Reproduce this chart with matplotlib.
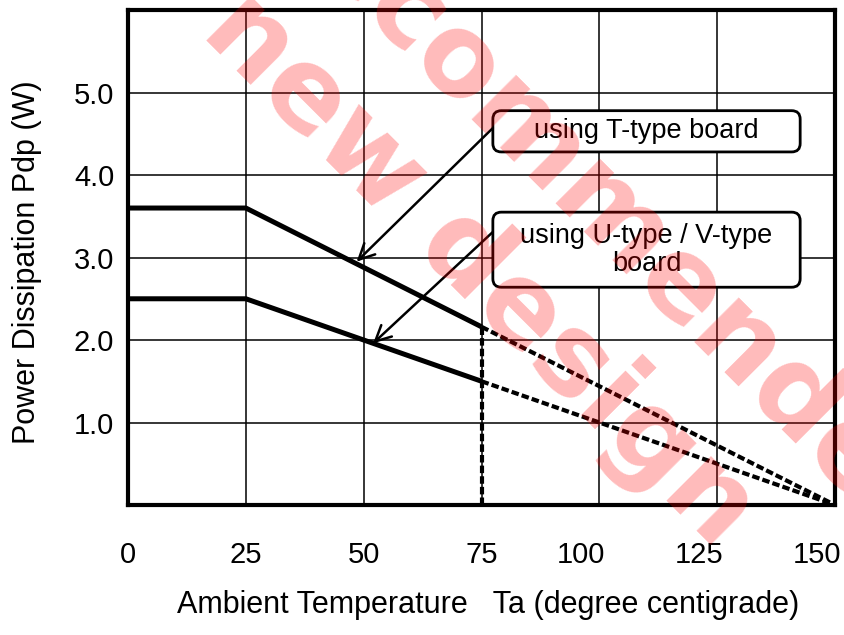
import matplotlib
matplotlib.use("Agg")
import matplotlib.pyplot as plt
import matplotlib.transforms as mtransforms
from matplotlib.patches import FancyBboxPatch

plt.rcParams['font.family'] = ['Liberation Sans', 'DejaVu Sans']

# --- Data ---
ta = [0, 25, 75, 150]             # ambient temperature (deg C)
pd_t = [3.6, 3.6, 2.16, 0.0]      # T-type board
pd_uv = [2.5, 2.5, 1.5, 0.0]      # U-type / V-type board
x_ticks = [0, 25, 50, 75, 100, 125, 150]
y_ticks = [1.0, 2.0, 3.0, 4.0, 5.0]

# annotation anchors: (box edge point, arrow tip)
t_arrow = ((77.4, 4.57), (48.5, 2.95))
uv_arrow = ((77.4, 3.31), (52.0, 1.96))

fig = plt.figure(figsize=(8.44, 6.35), dpi=100)
ax = fig.add_axes([0.1517, 0.2047, 0.8377, 0.7795])

dash = (0, (1.8, 0.75))
# solid part up to 75 C, dashed beyond
for pd in (pd_t, pd_uv):
    ax.plot(ta[:3], pd[:3], color='black', lw=3.6, solid_capstyle='butt', zorder=4)
    ax.plot(ta[2:], pd[2:], color='black', lw=3.0, linestyle=dash, zorder=4)
# vertical dashed marker at 75 C
ax.plot([ta[2], ta[2]], [0, pd_t[2]], color='black', lw=3.0, linestyle=dash, zorder=4)

ax.set_xlim(0, 150)
ax.set_ylim(0, 6.0)
ax.set_xticks(x_ticks)
ax.set_yticks(y_ticks)
ax.set_yticklabels([f'{v:.1f}' for v in y_ticks])
ax.tick_params(axis='both', length=0, labelsize=21)
ax.tick_params(axis='x', pad=26)
ax.tick_params(axis='y', pad=10)
ax.grid(True, color='black', lw=1.1)
for s in ax.spines.values():
    s.set_linewidth(3.0)

# the last three x labels sit a bit left of their grid lines in the original
shift = mtransforms.ScaledTranslation(-0.18, 0, fig.dpi_scale_trans)
for lbl in ax.get_xticklabels()[4:]:
    lbl.set_transform(lbl.get_transform() + shift)

# callout boxes (rounded, in data units with aspect fix)
asp = (707 / 150) / (495 / 6.0)
boxes = [((77.4, 4.28), 65.2, 0.50, 'using T-type board', (110, 4.53)),
         ((77.4, 2.64), 65.2, 0.91, 'using U-type / V-type\nboard', (110, 3.09))]
for (bx, by), w, h, txt, (tx, ty) in boxes:
    ax.add_patch(FancyBboxPatch((bx, by), w, h, boxstyle='round,pad=0,rounding_size=1.8',
                                mutation_aspect=asp, fc='white', ec='black', lw=2.0, zorder=5))
    ax.text(tx, ty, txt, ha='center', va='center', fontsize=19.5, zorder=6, linespacing=1.1)

for start, tip in (t_arrow, uv_arrow):
    ax.annotate('', xy=tip, xytext=start, zorder=6,
                arrowprops=dict(arrowstyle='->', lw=1.8, color='black',
                                mutation_scale=28, shrinkA=0, shrinkB=0))

fig.text(0.032, 0.587, 'Power Dissipation Pdp (W)', rotation=90, ha='center', va='center', fontsize=22)
fig.text(0.578, 0.047, 'Ambient Temperature   Ta (degree centigrade)', ha='center', va='center', fontsize=22)

# watermark
wm = dict(ha='center', va='center', rotation=-45, rotation_mode='anchor',
          fontsize=82, fontweight='bold', family='DejaVu Sans',
          color='red', alpha=0.27, zorder=10)
fig.text(0.614, 0.808, 'Not recommended', **wm)
fig.text(0.474, 0.699, 'for new design', **wm)

fig.savefig('out.png', dpi=100)
